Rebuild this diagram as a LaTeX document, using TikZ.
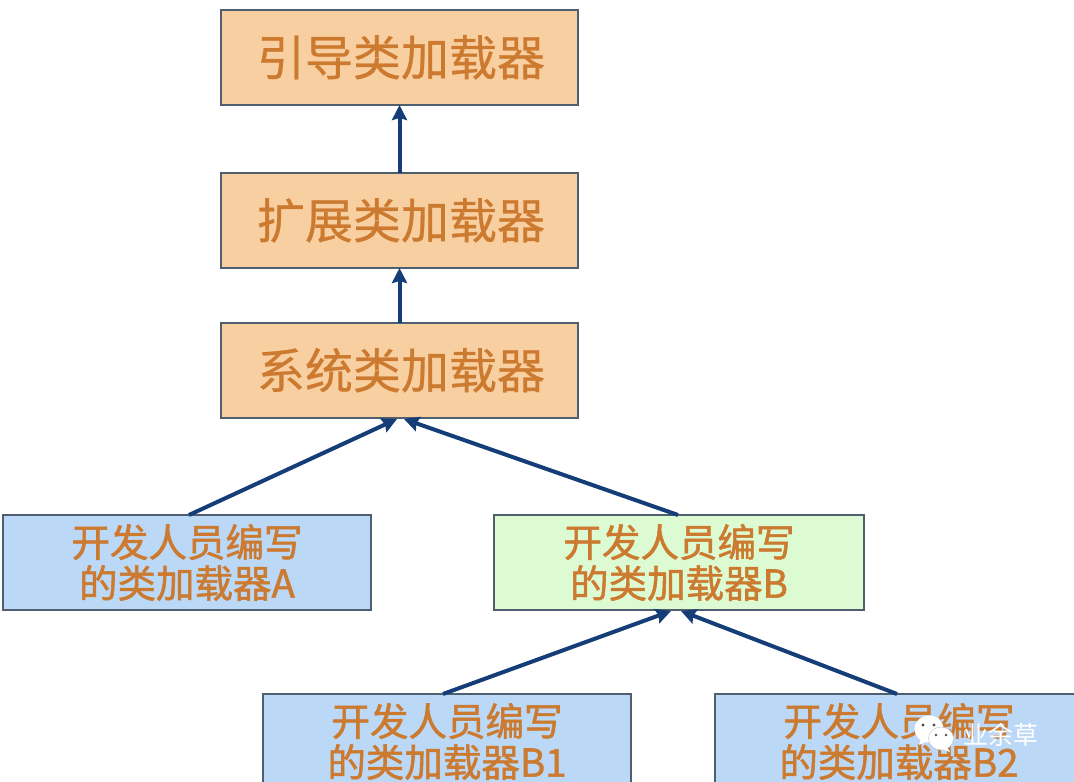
\documentclass[tikz,border=0pt]{standalone}
\usepackage{fontspec}
\setmainfont{Noto Sans CJK SC}
\newfontfamily\topfont[FakeBold=0.6]{Noto Sans CJK SC}
\newfontfamily\lowfont[FakeBold=1.4]{Noto Sans CJK SC}
\usetikzlibrary{arrows.meta}
\definecolor{orangefill}{HTML}{F8CFA0}
\definecolor{bluefill}{HTML}{BBD8F6}
\definecolor{greenfill}{HTML}{DDFBD2}
\definecolor{boxline}{HTML}{4F5F70}
\definecolor{labeltext}{HTML}{CC7A30}
\definecolor{arrowblue}{HTML}{153E78}
\tikzset{
  x=1pt,y=-1pt,
  box/.style={draw=boxline,line width=1.8pt,anchor=north west,inner sep=0pt,outer sep=0pt,text=labeltext,align=center},
  topbox/.style={box,fill=orangefill,minimum width=357pt,minimum height=95pt,font=\topfont\fontsize{48}{48}\selectfont,text height=40pt,text depth=4pt},
  lowbox/.style={box,minimum width=368pt,minimum height=95pt,font=\lowfont\fontsize{38.5}{41}\selectfont},
  link/.style={draw=arrowblue,line width=4pt,-{Stealth[length=15pt,width=15pt,inset=2pt]}},
  marktext/.style={font=\fontsize{25}{25}\selectfont,inner sep=0pt},
  bubble/.style={fill=white,draw=black!25,line width=0.4pt},
  eye/.style={fill=black!70},
}
\begin{document}
\begin{tikzpicture}
\useasboundingbox (0,0) rectangle (1074,782);
\fill[white] (0,0) rectangle (1074,782);
\node[topbox] (boot) at (221,10) {\hspace*{3pt}引导类加载器};
\node[topbox] (ext) at (221,173) {\hspace*{3pt}扩展类加载器};
\node[topbox] (sys) at (221,323) {\hspace*{3pt}系统类加载器};
\node[lowbox,fill=bluefill] (a) at (3,515) {开发人员编写\\的类加载器A};
\node[lowbox,fill=greenfill,minimum width=370pt] (b) at (494,515) {开发人员编写\\的类加载器B};
\begin{scope}
\clip (0,0) rectangle (1074,782);
\node[lowbox,fill=bluefill] (b1) at (263,694) {开发人员编写\\的类加载器B1};
\node[lowbox,fill=bluefill] (b2) at (715,694) {开发人员编写\\的类加载器B2};
\end{scope}
\coordinate (sysL) at (397,419);
\coordinate (sysR) at (404,419);
\coordinate (bL) at (671,611);
\coordinate (bR) at (681,611);
\coordinate (aT) at (189,515);
\coordinate (bT) at (678,515);
\coordinate (b1T) at (443,694);
\coordinate (b2T) at (897,694);
\draw[link] (ext.north) -- (boot.south);
\draw[link] (sys.north) -- (ext.south);
\draw[link] (aT) -- (sysL);
\draw[link] (bT) -- (sysR);
\draw[link] (b1T) -- (bL);
\draw[link] (b2T) -- (bR);
% watermark
\fill[white] (921,739) -- (919,745) -- (928,741) -- cycle;
\draw[bubble,draw=none] (929,729) ellipse (14.5pt and 13.5pt);
\fill[eye] (923,725) circle (1.6pt) (934,725) circle (1.6pt);
\draw[bubble] (941,738.5) ellipse (12.5pt and 11.5pt);
\fill[white] (947,747) -- (950,752) -- (942,749) -- cycle;
\fill[eye] (936,735) circle (1.4pt) (946,735) circle (1.4pt);
\node[marktext,text=white] (mark) at (1000.5,734.5) {业余草};
\end{tikzpicture}
\end{document}
